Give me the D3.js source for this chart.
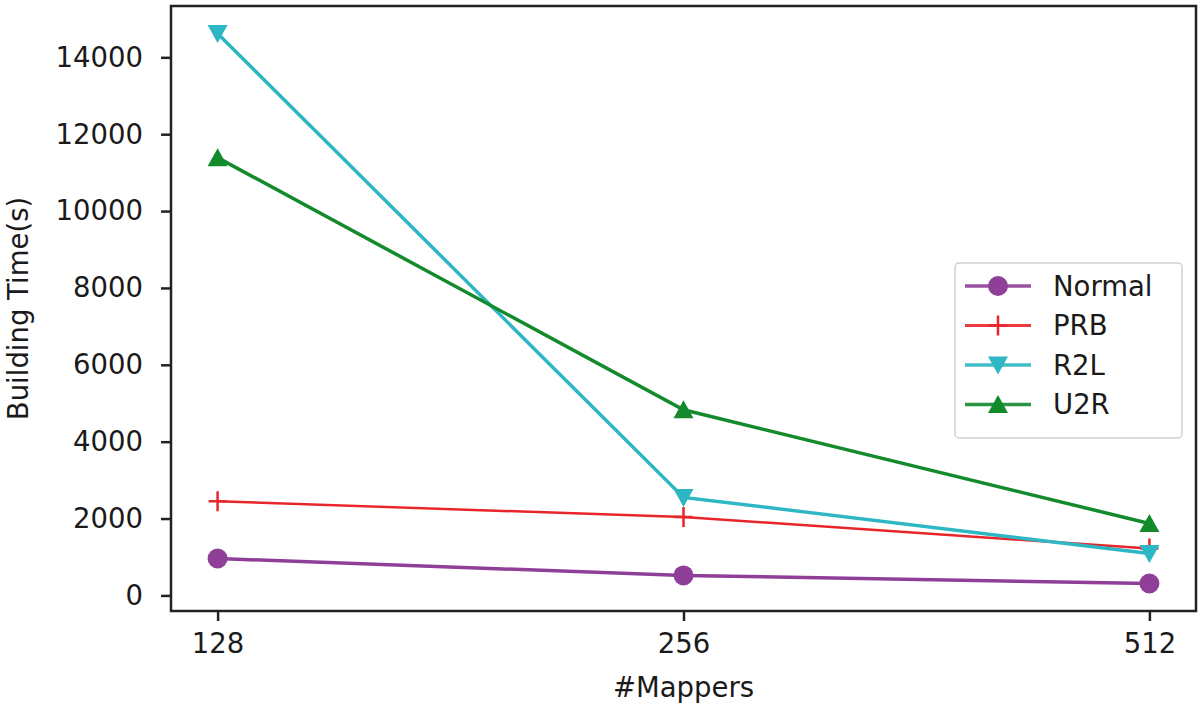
<!DOCTYPE html>
<html>
<head>
<meta charset="utf-8">
<script src="https://cdn.jsdelivr.net/npm/d3@7"></script>
<style>
  html, body { margin: 0; padding: 0; background: #fff; }
  svg { display: block; font-family: "DejaVu Sans", sans-serif; }
</style>
</head>
<body>
<svg id="chart" width="1200" height="704"></svg>
<script>
const categories = ["128", "256", "512"];
const seriesNames = ["Normal", "PRB", "R2L", "U2R"];
const normalValues = [960, 520, 310];
const prbValues = [2450, 2040, 1220];
const r2lValues = [14620, 2550, 1090];
const u2rValues = [11390, 4830, 1870];
const yTicks = [0, 2000, 4000, 6000, 8000, 10000, 12000, 14000];
const xLabel = "#Mappers";
const yLabel = "Building Time(s)";

const series = [
  { name: seriesNames[0], values: normalValues, color: "#8f3f97", marker: "circle" },
  { name: seriesNames[1], values: prbValues, color: "#e8252b", marker: "plus" },
  { name: seriesNames[2], values: r2lValues, color: "#2db6c3", marker: "tdown" },
  { name: seriesNames[3], values: u2rValues, color: "#138a2c", marker: "tup" }
];

const svg = d3.select("#chart");
const L = 171, R = 1196, T = 6, B = 611;

const allVals = series.flatMap(s => s.values);
const vmin = d3.min(allVals), vmax = d3.max(allVals);
const pad = (vmax - vmin) * 0.05;
const y = d3.scaleLinear().domain([vmin - pad, vmax + pad]).range([B, T]);
const xi = d3.scaleLinear().domain([-0.1, categories.length - 1 + 0.1]).range([L, R]);
const x = c => xi(categories.indexOf(c));

// axes
const fs = 27.5;
const yAxis = d3.axisLeft(y).tickValues(yTicks).tickSize(10).tickPadding(18).tickFormat(d3.format("d"));
const gy = svg.append("g").attr("transform", `translate(${L},0)`).call(yAxis);
gy.select(".domain").remove();
gy.selectAll("line").attr("stroke", "#222").attr("stroke-width", 2.5);
gy.selectAll("text").attr("font-size", fs).attr("fill", "#1a1a1a").attr("font-family", "DejaVu Sans");

const xAxis = d3.axisBottom(d3.scaleLinear().domain(xi.domain()).range(xi.range()))
  .tickValues(categories.map((c, i) => i)).tickSize(10).tickPadding(12)
  .tickFormat(i => categories[i]);
const gx = svg.append("g").attr("transform", `translate(0,${B})`).call(xAxis);
gx.select(".domain").remove();
gx.selectAll("line").attr("stroke", "#222").attr("stroke-width", 2.5);
gx.selectAll("text").attr("font-size", fs).attr("fill", "#1a1a1a").attr("font-family", "DejaVu Sans");

// spines
svg.append("rect").attr("x", L).attr("y", T).attr("width", R - L).attr("height", B - T)
  .attr("fill", "none").attr("stroke", "#222").attr("stroke-width", 2.5);

// axis labels
svg.append("text").attr("x", (L + R) / 2).attr("y", 697).attr("text-anchor", "middle")
  .attr("font-size", fs).attr("fill", "#1a1a1a").text(xLabel);
svg.append("text").attr("transform", `translate(28,${(T + B) / 2}) rotate(-90)`)
  .attr("text-anchor", "middle").attr("font-size", fs).attr("fill", "#1a1a1a").text(yLabel);

function drawMarker(g, type, cx, cy, color) {
  if (type === "circle") {
    g.append("circle").attr("cx", cx).attr("cy", cy).attr("r", 10).attr("fill", color);
  } else if (type === "plus") {
    g.append("path").attr("d", `M${cx - 9},${cy}H${cx + 9}M${cx},${cy - 10}V${cy + 10}`)
      .attr("stroke", color).attr("stroke-width", 2.5).attr("fill", "none");
  } else if (type === "tdown") {
    const s = 10;
    g.append("path").attr("d", `M${cx - s},${cy - s * 0.85}L${cx + s},${cy - s * 0.85}L${cx},${cy + s * 0.95}Z`)
      .attr("fill", color);
  } else if (type === "tup") {
    const s = 10;
    g.append("path").attr("d", `M${cx - s},${cy + s * 0.85}L${cx + s},${cy + s * 0.85}L${cx},${cy - s * 0.95}Z`)
      .attr("fill", color);
  }
}

const line = d3.line().x((d, i) => x(categories[i])).y(d => y(d));
series.forEach(s => {
  const g = svg.append("g");
  g.append("path").attr("d", line(s.values)).attr("fill", "none")
    .attr("stroke", s.color).attr("stroke-width", s.marker === "plus" ? 2.5 : 3.5);
  s.values.forEach((v, i) => drawMarker(g, s.marker, x(categories[i]), y(v), s.color));
});

// legend
const lg = svg.append("g");
lg.append("rect").attr("x", 955).attr("y", 263).attr("width", 227).attr("height", 175)
  .attr("rx", 4).attr("fill", "#fff").attr("fill-opacity", 0.8).attr("stroke", "#d0d0d0").attr("stroke-width", 1.5);
series.forEach((s, i) => {
  const cy = 286 + i * 39.5;
  lg.append("line").attr("x1", 965).attr("x2", 1031).attr("y1", cy).attr("y2", cy)
    .attr("stroke", s.color).attr("stroke-width", s.marker === "plus" ? 3 : 3.5).attr("opacity", 0.9);
  drawMarker(lg, s.marker, 998, cy, s.color);
  lg.append("text").attr("x", 1053).attr("y", cy + 9.5).attr("font-size", fs).attr("fill", "#1a1a1a").text(s.name);
});
</script>
</body>
</html>
